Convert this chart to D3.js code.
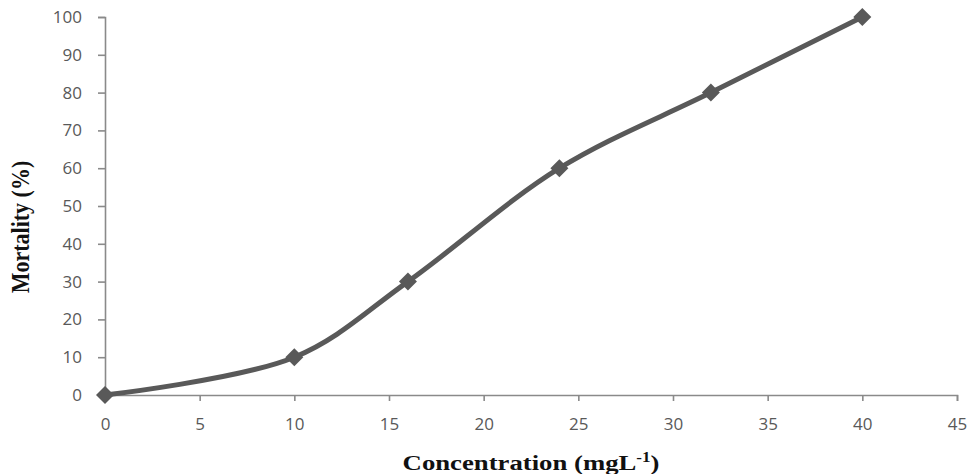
<!DOCTYPE html>
<html>
<head>
<meta charset="utf-8">
<script src="https://cdn.jsdelivr.net/npm/d3@7"></script>
<style>
  body { margin: 0; background: #fff; }
  svg { display: block; }
</style>
</head>
<body>
<svg width="975" height="474"></svg>
<script>
// chart data
const concentration = [0, 10, 16, 24, 32, 40];
const mortality = [0, 10, 30, 60, 80, 100];
const xTicks = [0, 5, 10, 15, 20, 25, 30, 35, 40, 45];
const yTicks = [0, 10, 20, 30, 40, 50, 60, 70, 80, 90, 100];

const svg = d3.select("svg");
const margin = { top: 17, right: 18, bottom: 79, left: 105 };
const width = +svg.attr("width") - margin.left - margin.right;
const height = +svg.attr("height") - margin.top - margin.bottom;
const chart = svg.append("g").attr("transform", `translate(${margin.left},${margin.top})`);

const x = d3.scaleLinear().domain([0, 45]).range([0, width]);
const y = d3.scaleLinear().domain([0, 100]).range([height, 0]);

const axisColor = "#8a8a8a";
const textColor = "#595959";

// axes
const xAxis = chart.append("g")
    .attr("transform", `translate(0,${height})`)
    .call(d3.axisBottom(x).tickValues(xTicks).tickSize(6).tickSizeOuter(6).tickPadding(17));
const yAxis = chart.append("g")
    .call(d3.axisLeft(y).tickValues(yTicks).tickSize(7).tickSizeOuter(7).tickPadding(16));

[xAxis, yAxis].forEach(a => {
    a.select(".domain").attr("stroke", axisColor).attr("stroke-width", 1.6);
    a.selectAll(".tick line").attr("stroke", axisColor).attr("stroke-width", 1.6);
    a.selectAll(".tick text")
        .attr("fill", textColor)
        .style("font-family", "'Open Sans', sans-serif")
        .style("font-size", "17px");
});

// smoothed line
const line = d3.line()
    .x((d, i) => x(concentration[i]))
    .y(d => y(d))
    .curve(d3.curveCatmullRom.alpha(0.5));

chart.append("path")
    .datum(mortality)
    .attr("fill", "none")
    .attr("stroke", "#595959")
    .attr("stroke-width", 5)
    .attr("stroke-linejoin", "round")
    .attr("d", line);

// diamond markers
chart.selectAll(".marker")
    .data(mortality)
    .enter().append("path")
    .attr("class", "marker")
    .attr("transform", (d, i) => `translate(${x(concentration[i])},${y(d)})`)
    .attr("d", "M0,-9L9,0L0,9L-9,0Z")
    .attr("fill", "#595959");

// axis titles (stretched horizontally like the source picture)
const titleFont = "'Liberation Serif', 'Times New Roman', serif";
const xt = svg.append("g").attr("transform", "translate(531,470)");
const xTitle = xt.append("text")
    .attr("text-anchor", "middle")
    .style("font-family", titleFont)
    .style("font-weight", "bold")
    .style("font-size", "22px")
    .attr("fill", "#111");
xTitle.append("tspan").text("Concentration (mgL");
xTitle.append("tspan").attr("dy", -8).style("font-size", "14px").text("-1");
xTitle.append("tspan").attr("dy", 8).text(")");
const xw = xTitle.node().getBBox().width;
xTitle.attr("transform", `scale(${257 / xw},1)`);

svg.append("g")
    .attr("transform", "translate(29,227) scale(1.15,1)")
    .append("text")
    .attr("transform", "rotate(-90)")
    .attr("text-anchor", "middle")
    .style("font-family", titleFont)
    .style("font-weight", "bold")
    .style("font-size", "22px")
    .attr("fill", "#111")
    .text("Mortality (%)");
</script>
</body>
</html>
